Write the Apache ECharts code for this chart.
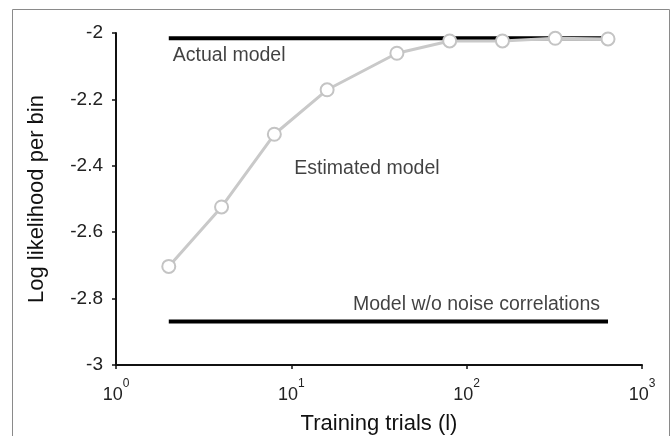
<!DOCTYPE html>
<html>
<head>
<meta charset="utf-8">
<script src="https://cdn.jsdelivr.net/npm/echarts@6/dist/echarts.min.js"></script>
<style>
html,body{margin:0;padding:0;background:#fff;}
#c{width:672px;height:436px;}
</style>
</head>
<body>
<div id="c"></div>
<script>
// Data
var trials = [2, 4, 8, 16, 40, 80, 160, 320, 640];
var estimated = [-2.703, -2.524, -2.305, -2.171, -2.061, -2.024, -2.024, -2.016, -2.018];
var actualModel = -2.016;
var noCorrModel = -2.869;
var lineRange = [2, 640];
var xTickExponents = ['0', '1', '2', '3'];
var yTickValues = [-3, -2.8, -2.6, -2.4, -2.2, -2];
var annotations = [
  {text: 'Actual model', x: 2, y: -2.069, align: 'left', dx: 4},
  {text: 'Estimated model', x: 10, y: -2.408, align: 'left', dx: 3},
  {text: 'Model w/o noise correlations', x: 640, y: -2.819, align: 'right', dx: -8}
];

var chart = echarts.init(document.getElementById('c'), null, {renderer: 'canvas'});
var FONT = 'Liberation Sans, Arial, sans-serif';

var option = {
  animation: false,
  backgroundColor: '#fff',
  textStyle: {fontFamily: FONT},
  graphic: [{
    type: 'rect', silent: true, z: -10,
    shape: {x: 12.5, y: 9.5, width: 657, height: 440},
    style: {fill: 'none', stroke: '#8a8a8a', lineWidth: 1}
  }],
  grid: {left: 116, right: 30, top: 33, bottom: 71, containLabel: false, outerBoundsMode: 'none'},
  xAxis: {
    type: 'log', logBase: 10, min: 1, max: 1000,
    name: 'Training trials (l)', nameLocation: 'middle', nameGap: 48,
    nameTextStyle: {fontSize: 22, color: '#111', fontFamily: FONT},
    axisLine: {lineStyle: {color: '#111', width: 2}},
    axisTick: {show: true, length: 4, lineStyle: {color: '#111', width: 1.5}},
    minorTick: {show: false},
    splitLine: {show: false},
    axisLabel: {
      margin: 10,
      formatter: function (v) {
        var e = Math.round(Math.log10(v));
        return '{b|10}{s|' + xTickExponents[e] + '}';
      },
      rich: {
        b: {fontSize: 18, color: '#222', fontFamily: FONT, padding: [11, 0, 0, 0]},
        s: {fontSize: 12, color: '#222', fontFamily: FONT, padding: [0, 0, 11, 0]}
      }
    }
  },
  yAxis: {
    type: 'value', min: -3, max: -2, interval: 0.2,
    name: 'Log likelihood per bin', nameLocation: 'middle', nameGap: 68,
    nameTextStyle: {fontSize: 22, color: '#111', fontFamily: FONT},
    axisLine: {show: true, lineStyle: {color: '#111', width: 2}},
    axisTick: {show: true, length: 4, lineStyle: {color: '#111', width: 1.5}},
    splitLine: {show: false},
    axisLabel: {
      fontSize: 19, color: '#222', margin: 13, fontFamily: FONT,
      formatter: function (v) {
        for (var i = 0; i < yTickValues.length; i++) {
          if (Math.abs(yTickValues[i] - v) < 1e-9) return String(yTickValues[i]);
        }
        return '';
      }
    }
  },
  series: [
    {
      type: 'line', name: 'Actual model', z: 2,
      data: [[lineRange[0], actualModel], [lineRange[1], actualModel]],
      showSymbol: false, symbol: 'none',
      lineStyle: {color: '#000', width: 4}
    },
    {
      type: 'line', name: 'No noise correlations', z: 2,
      data: [[lineRange[0], noCorrModel], [lineRange[1], noCorrModel]],
      showSymbol: false, symbol: 'none',
      lineStyle: {color: '#000', width: 4}
    },
    {
      type: 'line', name: 'Estimated model', z: 3,
      data: trials.map(function (t, i) { return [t, estimated[i]]; }),
      symbol: 'circle', symbolSize: 13,
      lineStyle: {color: '#c9c9c9', width: 3},
      itemStyle: {color: '#fff', borderColor: '#c4c4c4', borderWidth: 2}
    },
    {
      type: 'scatter', name: 'labels', z: 4, silent: true,
      symbolSize: 0,
      data: annotations.map(function (a) {
        return {
          value: [a.x, a.y],
          label: {
            show: true, position: 'inside', formatter: a.text,
            align: a.align, verticalAlign: 'middle', offset: [a.dx, 0],
            fontSize: 19.5, color: '#111', fontFamily: FONT
          }
        };
      })
    }
  ]
};
chart.setOption(option);
</script>
</body>
</html>
